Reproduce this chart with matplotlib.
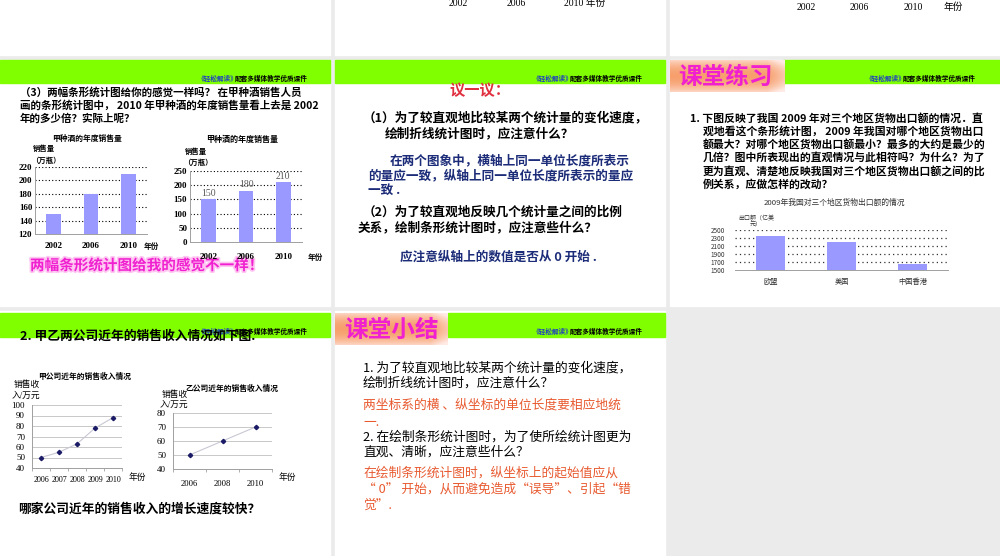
"""Slide sheet: bar and line charts about axis scales (lesson thumbnails)."""

import matplotlib

matplotlib.use("Agg")
import matplotlib.pyplot as plt
import matplotlib.patheffects as pe
import numpy as np

W, H = 1000, 556
CJK = ["Noto Sans CJK SC", "DejaVu Sans"]
SERIF = ["Liberation Serif", "Noto Sans CJK SC"]

GRAY_BG = "#ebebeb"
GREEN = "#80ff00"
BAR = "#9999ff"
MAGENTA = "#f020d0"
NAVY = "#1c2c78"
ORANGE_RED = "#e85a30"

# data
wine_years = ["2002", "2006", "2010"]
wine_sales = [150, 180, 210]

export_regions = ["欧盟", "美国", "中国香港"]
export_values = [2362, 2208, 1662]

firm_a_years = ["2006", "2007", "2008", "2009", "2010"]
firm_a_income = [50, 55, 63, 78, 88]
firm_b_years = ["2006", "2008", "2010"]
firm_b_income = [50, 60, 70]

HEADER_BLUE = "《轻松解读》"
HEADER_REST = "配套多媒体教学优质课件"

q3_lines = [
    "（3）两幅条形统计图给你的感觉一样吗？ 在甲种酒销售人员",
    "画的条形统计图中， 2010 年甲种酒的年度销售量看上去是 2002",
    "年的多少倍？实际上呢？",
]
practice_lines = [
    "1. 下图反映了我国 2009 年对三个地区货物出口额的情况．直",
    "观地看这个条形统计图， 2009 年我国对哪个地区货物出口",
    "额最大？对哪个地区货物出口额最小？最多的大约是最少的",
    "几倍？图中所表现出的直观情况与此相符吗？为什么？为了",
    "更为直观、清楚地反映我国对三个地区货物出口额之间的比",
    "例关系，应做怎样的改动？",
]


def px_axes(fig, x0, y0, x1, y1):
    return fig.add_axes([x0 / W, 1 - y1 / H, (x1 - x0) / W, (y1 - y0) / H])


def put(ax, x, y, s, size, color="black", weight="normal", ha="left",
        va="center", family=CJK, **kw):
    return ax.text(x, y, s, fontsize=size, color=color, fontweight=weight,
                   ha=ha, va=va, family=family, **kw)


def header(ax, x, y):
    put(ax, x, y, HEADER_BLUE, 4.8, color="#2040c0", weight="bold")
    put(ax, x + 37, y, HEADER_REST, 4.8, weight="bold")


def peach_box(ax, x0, y0, x1, y1):
    ny, nx = 40, 80
    yy = np.linspace(-1, 1, ny)[:, None]
    xx = np.linspace(0, 1, nx)[None, :]
    fade = np.clip(np.abs(yy) ** 2 * 0.7 + np.clip((xx - 0.85) / 0.15, 0, 1) * 0.5, 0, 1)
    base = np.array([247, 160, 110]) / 255
    img = base * (1 - fade[..., None]) + np.array([1.0, 0.92, 0.9]) * fade[..., None]
    ax.imshow(img, extent=(x0, x1, y1, y0), aspect="auto", zorder=1)


def style_chart(ax):
    ax.set_facecolor("none")
    for side in ("top", "right"):
        ax.spines[side].set_visible(False)
    for side in ("left", "bottom"):
        ax.spines[side].set_color("#a0a0a0")
        ax.spines[side].set_linewidth(0.7)
    ax.tick_params(length=0, labelsize=6.5, pad=2)


fig = plt.figure(figsize=(W / 100, H / 100), dpi=100)
fig.patch.set_facecolor(GRAY_BG)
bg = fig.add_axes([0, 0, 1, 1])
bg.set_xlim(0, W)
bg.set_ylim(H, 0)
bg.axis("off")

# slide panels
for x0, x1 in [(0, 330), (335, 665), (670, 1000)]:
    bg.add_patch(plt.Rectangle((x0, 0), x1 - x0, 55, color="white", zorder=0))
    bg.add_patch(plt.Rectangle((x0, 60), x1 - x0, 246, color="white", zorder=0))
for x0, x1 in [(0, 330), (335, 665)]:
    bg.add_patch(plt.Rectangle((x0, 311), x1 - x0, 245, color="white", zorder=0))

# leftover axis labels of the slides above
for x, s in zip([458, 516], ["2002", "2006"]):
    put(bg, x, 3, s, 7, ha="center", family=SERIF)
put(bg, 564, 3, "2010 年份", 7, family=SERIF)
for x, s in zip([806, 859, 913, 953], ["2002", "2006", "2010", "年份"]):
    put(bg, x, 7, s, 7, ha="center", family=SERIF)

# headers
bg.add_patch(plt.Rectangle((0, 60), 330, 23, color=GREEN, zorder=1))
bg.add_patch(plt.Rectangle((335, 60), 330, 23, color=GREEN, zorder=1))
bg.add_patch(plt.Rectangle((783, 60), 217, 23, color=GREEN, zorder=1))
bg.add_patch(plt.Rectangle((0, 313), 330, 24, color=GREEN, zorder=1))
bg.add_patch(plt.Rectangle((448, 313), 217, 24, color=GREEN, zorder=1))
peach_box(bg, 670, 60, 785, 92)
peach_box(bg, 335, 313, 448, 345)
for x, y in [(198, 78), (533, 78), (866, 78), (198, 331), (533, 331)]:
    header(bg, x, y)
put(bg, 725, 77, "课堂练习", 17, color=MAGENTA, weight="bold", ha="center", zorder=3)
put(bg, 391, 330, "课堂小结", 17, color=MAGENTA, weight="bold", ha="center", zorder=3)

# slide 1: two bar charts for wine sales
for i, line in enumerate(q3_lines):
    put(bg, 20, 92 + i * 13.5, line, 7.6, weight="bold")

put(bg, 87, 138, "甲种酒的年度销售量", 5.6, weight="bold", ha="center")
put(bg, 33, 148, "销售量", 5.3, weight="bold")
put(bg, 31, 160, "（万瓶）", 5.3, weight="bold")
ax = px_axes(fig, 35, 167, 147, 234)
style_chart(ax)
x = np.arange(len(wine_years))
ax.bar(x, wine_sales, width=0.4, color=BAR, zorder=2)
ax.set_xlim(-0.5, 2.5)
ax.set_ylim(120, 220)
ax.set_yticks(range(120, 221, 20))
ax.set_xticks(x, wine_years)
ax.tick_params(axis="x", pad=6)
for lab in ax.get_xticklabels() + ax.get_yticklabels():
    lab.set_family(SERIF)
    lab.set_fontweight("bold")
for v in range(140, 221, 20):
    ax.axhline(v, color="black", lw=0.8, ls=(0, (1, 2)), zorder=1)
put(bg, 151, 246, "年份", 5.5, weight="bold", ha="center")

put(bg, 242, 139, "甲种酒的年度销售量", 5.8, weight="bold", ha="center")
put(bg, 185, 151, "销售量", 5.3, weight="bold")
put(bg, 183, 162, "（万瓶）", 5.3, weight="bold")
ax = px_axes(fig, 190, 171, 302, 242)
style_chart(ax)
bars = ax.bar(x, wine_sales, width=0.4, color=BAR, zorder=2)
ax.bar_label(bars, padding=1, fontsize=7, color="#555555", family=SERIF)
ax.set_xlim(-0.5, 2.5)
ax.set_ylim(0, 250)
ax.set_yticks(range(0, 251, 50))
ax.set_xticks(x, wine_years)
ax.tick_params(axis="x", pad=8)
for lab in ax.get_xticklabels() + ax.get_yticklabels():
    lab.set_family(SERIF)
    lab.set_fontweight("bold")
for v in range(50, 251, 50):
    ax.axhline(v, color="black", lw=0.8, ls=(0, (1, 2)), zorder=1)
put(bg, 315, 257, "年份", 5.5, weight="bold", ha="center")

put(bg, 30, 265, "两幅条形统计图给我的感觉不一样！", 10.5, color=MAGENTA,
    weight="bold", zorder=4,
    path_effects=[pe.withStroke(linewidth=2.5, foreground="#ffc6f2")])

# slide 2: discussion
put(bg, 480, 90, "议一议：", 11, color="#e03040", weight="bold", ha="center")
put(bg, 363, 118, "（1）为了较直观地比较某两个统计量的变化速度，", 9.1, weight="bold")
put(bg, 385, 134, "绘制折线统计图时，应注意什么？", 9.1, weight="bold")
put(bg, 390, 161, "在两个图象中，横轴上同一单位长度所表示", 9.1, color=NAVY, weight="bold")
put(bg, 368, 176, "的量应一致，纵轴上同一单位长度所表示的量应", 9.1, color=NAVY, weight="bold")
put(bg, 368, 190, "一致 .", 9.1, color=NAVY, weight="bold")
put(bg, 363, 212, "（2）为了较直观地反映几个统计量之间的比例", 9.1, weight="bold")
put(bg, 358, 228, "关系，绘制条形统计图时，应注意些什么？", 9.1, weight="bold")
put(bg, 400, 257, "应注意纵轴上的数值是否从 0 开始 .", 9.1, color=NAVY, weight="bold")

# slide 3: export bar chart
for i, line in enumerate(practice_lines):
    put(bg, 690 if i == 0 else 703, 118 + i * 13.2, line, 7.8, weight="bold")
put(bg, 834, 203, "2009年我国对三个地区货物出口额的情况", 5.6, ha="center",
    color="#333333")
put(bg, 738, 218, "出口额（亿美", 4.3, color="#333333")
put(bg, 750, 224, "元）", 4.3, color="#333333")
ax = px_axes(fig, 735, 230, 948, 270)
style_chart(ax)
xr = np.arange(len(export_regions))
ax.bar(xr, export_values, width=0.4, color=BAR, zorder=2)
ax.set_xlim(-0.5, 2.5)
ax.set_ylim(1500, 2500)
ax.set_yticks(range(1500, 2501, 200))
ax.set_xticks(xr, export_regions)
ax.tick_params(axis="y", labelsize=4.6, pad=7)
ax.tick_params(axis="x", labelsize=5.2, pad=6)
for lab in ax.get_xticklabels() + ax.get_yticklabels():
    lab.set_family(CJK)
    lab.set_color("#333333")
ax.spines["left"].set_visible(False)
for v in range(1700, 2501, 200):
    ax.axhline(v, color="#333333", lw=0.9, ls=(0, (1, 2.5)), zorder=1)

# slide 4: two line charts of sales income
put(bg, 20, 336, "2. 甲乙两公司近年的销售收入情况如下图.", 9.2, weight="bold", zorder=4)

put(bg, 85, 376, "甲公司近年的销售收入情况", 5.6, weight="bold", ha="center")
put(bg, 14, 385, "销售收", 6.3, family=SERIF)
put(bg, 12, 396, "入/万元", 6.3, family=SERIF)
ax = px_axes(fig, 32, 405, 122, 468)
style_chart(ax)
xa = np.arange(len(firm_a_years))
ax.plot(xa, firm_a_income, color="#c8c8d4", lw=0.8, marker="D", ms=2.2,
        mfc="#1a1a66", mec="#1a1a66", zorder=3)
ax.set_xlim(-0.5, 4.5)
ax.set_ylim(40, 100)
ax.set_yticks(range(40, 101, 10))
ax.set_xticks(xa, firm_a_years)
ax.set_xticks(np.arange(-0.5, 4.6, 1), minor=True)
ax.tick_params(axis="x", which="minor", length=2.5, color="#a0a0a0")
ax.tick_params(axis="x", pad=6, labelsize=5.8)
ax.tick_params(axis="y", pad=5)
for lab in ax.get_xticklabels() + ax.get_yticklabels():
    lab.set_family(SERIF)
ax.grid(axis="y", color="#c8c8c8", lw=0.7, zorder=1)
put(bg, 137, 478, "年份", 6.3, family=SERIF, ha="center")

put(bg, 232, 388, "乙公司近年的销售收入情况", 5.6, weight="bold", ha="center")
put(bg, 162, 395, "销售收", 6.3, family=SERIF)
put(bg, 160, 405, "入/万元", 6.3, family=SERIF)
ax = px_axes(fig, 173, 413, 272, 469)
style_chart(ax)
xb = np.arange(len(firm_b_years))
ax.plot(xb, firm_b_income, color="#c8c8d4", lw=0.8, marker="D", ms=2.2,
        mfc="#1a1a66", mec="#1a1a66", zorder=3)
ax.set_xlim(-0.5, 2.5)
ax.set_ylim(40, 80)
ax.set_yticks(range(40, 81, 10))
ax.set_xticks(xb, firm_b_years)
ax.set_xticks(np.arange(-0.5, 2.6, 1), minor=True)
ax.tick_params(axis="x", which="minor", length=2.5, color="#a0a0a0")
ax.tick_params(axis="x", pad=8, labelsize=6.2)
ax.tick_params(axis="y", pad=5)
for lab in ax.get_xticklabels() + ax.get_yticklabels():
    lab.set_family(SERIF)
ax.grid(axis="y", color="#c8c8c8", lw=0.7, zorder=1)
put(bg, 287, 478, "年份", 6.3, family=SERIF, ha="center")

put(bg, 18, 509, "哪家公司近年的销售收入的增长速度较快？", 9.2, weight="bold")

# slide 5: summary
summary = [
    (368, "1. 为了较直观地比较某两个统计量的变化速度，", "black"),
    (383, "绘制折线统计图时，应注意什么？", "black"),
    (405, "两坐标系的横 、纵坐标的单位长度要相应地统", ORANGE_RED),
    (422, "一.", ORANGE_RED),
    (437, "2. 在绘制条形统计图时，为了使所绘统计图更为", "black"),
    (452, "直观、清晰，应注意些什么？", "black"),
    (473, "在绘制条形统计图时，纵坐标上的起始值应从", ORANGE_RED),
    (489, "“ 0” 开始，从而避免造成“误导”、引起“错", ORANGE_RED),
    (505, "觉”.", ORANGE_RED),
]
for y, s, c in summary:
    put(bg, 363, y, s, 9.2, color=c)

fig.savefig("out.png", dpi=100, facecolor=fig.get_facecolor())
